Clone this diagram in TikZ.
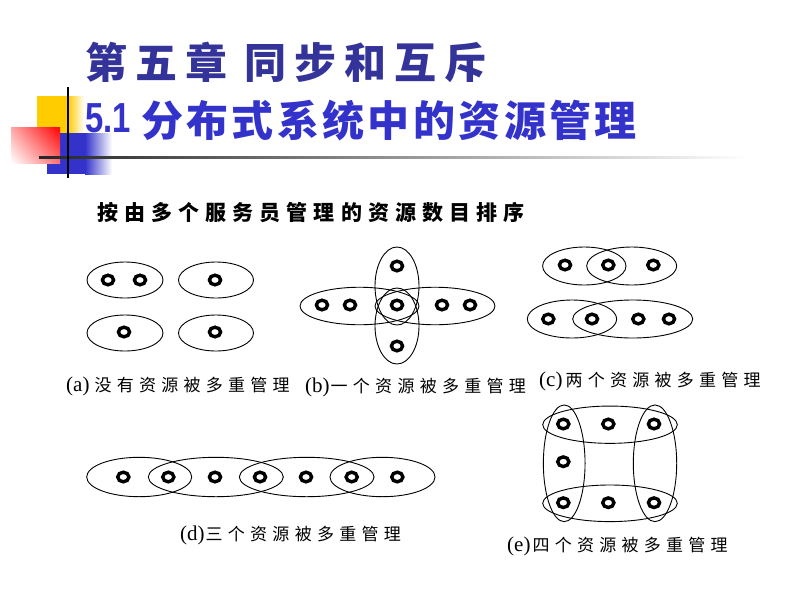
\documentclass[tikz,border=0pt]{standalone}
\usepackage{fontspec}
\usepackage{graphicx}
\setmainfont{Liberation Serif}
\newfontfamily\cjklab[LetterSpace=31]{Noto Sans CJK SC}
\newfontfamily\cjksub[LetterSpace=29]{Noto Sans CJK SC}
\newfontfamily\cjkta[LetterSpace=19]{Noto Sans CJK SC}
\newfontfamily\cjktb[LetterSpace=8]{Noto Sans CJK SC}
\newfontfamily\arialf{Liberation Sans}
\usetikzlibrary{shapes.geometric,shadings}
\definecolor{tblue}{RGB}{51,51,153}
\definecolor{tblue2}{RGB}{51,51,204}
\definecolor{decoyel}{RGB}{255,204,0}
\definecolor{decoblue}{RGB}{51,51,204}
\begin{document}
\begin{tikzpicture}[x=1pt,y=-1pt,
  srv/.style={draw, ellipse, line width=0.9pt, inner sep=0pt},
  ring/.style={draw, ellipse, line width=3.4pt, minimum width=11.2pt, minimum height=9.6pt, inner sep=0pt},
  lab/.style={anchor=west, inner sep=0pt},
  labfont/.style={font=\fontsize{21}{24}\selectfont}
]
\useasboundingbox (0,0) rectangle (800,600);
\fill[white] (0,0) rectangle (800,600);
% decoration
\fill[decoyel] (37,96) rectangle (68,133);
\shade[left color=decoyel, right color=white] (68,96) rectangle (84,133);
\fill[decoblue] (47,133) rectangle (85,174);
\shade[left color=decoblue, right color=white] (85,133) rectangle (112,174);
\shade[upper left=red!35, upper right=red, lower left=white, lower right=red!55] (11,127) rectangle (60,163);
\shade[left color=black!85, middle color=black!50, right color=white] (39,156) rectangle (750,158.3);
\draw[line width=1.5pt] (68,87) -- (68,178);
% titles
\node[lab, text=tblue] (t1) at (85,62) {\cjkta\bfseries\fontsize{42}{48}\selectfont 第五章 同步和互斥};
\node[lab, text=tblue2] (t2n) at (85,118) {\scalebox{0.82}[1.05]{\arialf\bfseries\fontsize{40}{48}\selectfont 5.1}};
\node[lab, text=tblue2] (t2) at (141,120) {\cjktb\bfseries\fontsize{42}{48}\selectfont 分布式系统中的资源管理};
\node[lab] (sub) at (97,213) {\cjksub\bfseries\fontsize{21}{24}\selectfont 按由多个服务员管理的资源数目排序};
% (a)
\node[srv, minimum width=76pt, minimum height=36pt] (a1) at (125,280) {};
\node[srv, minimum width=75pt, minimum height=36pt] (a2) at (216,280) {};
\node[srv, minimum width=76pt, minimum height=36pt] (a3) at (125,333) {};
\node[srv, minimum width=75pt, minimum height=36pt] (a4) at (216,333) {};
\node[ring] (ar1) at (108,280) {};
\node[ring] (ar2) at (140,280) {};
\node[ring] (ar3) at (215,280) {};
\node[ring] (ar4) at (124,332) {};
\node[ring] (ar5) at (215,332) {};
% (b)
\node[srv, minimum width=119pt, minimum height=37.5pt] (b1) at (359.5,306) {};
\node[srv, minimum width=120pt, minimum height=37.5pt] (b2) at (435,306) {};
\node[srv, minimum width=44pt, minimum height=78pt] (b3) at (397,286) {};
\node[srv, minimum width=44pt, minimum height=76pt] (b4) at (397,326) {};
\node[ring] (br1) at (322,305) {};
\node[ring] (br2) at (350,305) {};
\node[ring] (br3) at (397,305) {};
\node[ring] (br4) at (442,305) {};
\node[ring] (br5) at (470,305) {};
\node[ring] (br6) at (397,266) {};
\node[ring] (br7) at (397,346) {};
% (c)
\node[srv, minimum width=83.4pt, minimum height=38pt] (c1) at (584.3,266) {};
\node[srv, minimum width=90pt, minimum height=38pt] (c2) at (631.7,266) {};
\node[srv, minimum width=89.4pt, minimum height=38pt] (c3) at (572,319) {};
\node[srv, minimum width=120pt, minimum height=38pt] (c4) at (632.7,319) {};
\node[ring] (cr1) at (565,265) {};
\node[ring] (cr2) at (608.3,265) {};
\node[ring] (cr3) at (653.3,265) {};
\node[ring] (cr4) at (548.3,319) {};
\node[ring] (cr5) at (592,319) {};
\node[ring] (cr6) at (638.3,319) {};
\node[ring] (cr7) at (669,319) {};
% (d)
\node[srv, minimum width=105pt, minimum height=39.4pt] (d1) at (139.2,477) {};
\node[srv, minimum width=135pt, minimum height=39.4pt] (d2) at (215.8,477) {};
\node[srv, minimum width=134.7pt, minimum height=39.4pt] (d3) at (306.7,477) {};
\node[srv, minimum width=105pt, minimum height=39.4pt] (d4) at (382.5,477) {};
\node[ring] (dr1) at (123.3,477) {};
\node[ring] (dr2) at (168.3,477) {};
\node[ring] (dr3) at (215,477) {};
\node[ring] (dr4) at (260,477) {};
\node[ring] (dr5) at (306,477) {};
\node[ring] (dr6) at (351.7,477) {};
\node[ring] (dr7) at (397.3,477) {};
% (e)
\node[srv, minimum width=134.6pt, minimum height=37.3pt] (e1) at (610,424.7) {};
\node[srv, minimum width=134.6pt, minimum height=36.6pt] (e2) at (610,503.3) {};
\node[srv, minimum width=41.7pt, minimum height=116.7pt] (e3) at (564.2,463.3) {};
\node[srv, minimum width=43.4pt, minimum height=116.7pt] (e4) at (655,463.3) {};
\node[ring] (er1) at (563.3,424) {};
\node[ring] (er2) at (608.3,424) {};
\node[ring] (er3) at (654,424) {};
\node[ring] (er4) at (563.3,461.7) {};
\node[ring] (er5) at (563.3,502.7) {};
\node[ring] (er6) at (608.3,502.7) {};
\node[ring] (er7) at (654,502.7) {};
% labels
\node[lab, labfont] (la) at (66,386) {(a)\hspace{5pt}{\cjklab\fontsize{17}{20}\selectfont 没有资源被多重管理}};
\node[lab, labfont] (lb) at (305,387) {(b)\hspace{1pt}{\cjklab\fontsize{17}{20}\selectfont 一个资源被多重管理}};
\node[lab, labfont] (lc) at (539,381) {(c)\hspace{3pt}{\cjklab\fontsize{17}{20}\selectfont 两个资源被多重管理}};
\node[lab, labfont] (ld) at (180,535) {(d)\hspace{1pt}{\cjklab\fontsize{17}{20}\selectfont 三个资源被多重管理}};
\node[lab, labfont] (le) at (507,546) {(e)\hspace{2pt}{\cjklab\fontsize{17}{20}\selectfont 四个资源被多重管理}};
\end{tikzpicture}
\end{document}
